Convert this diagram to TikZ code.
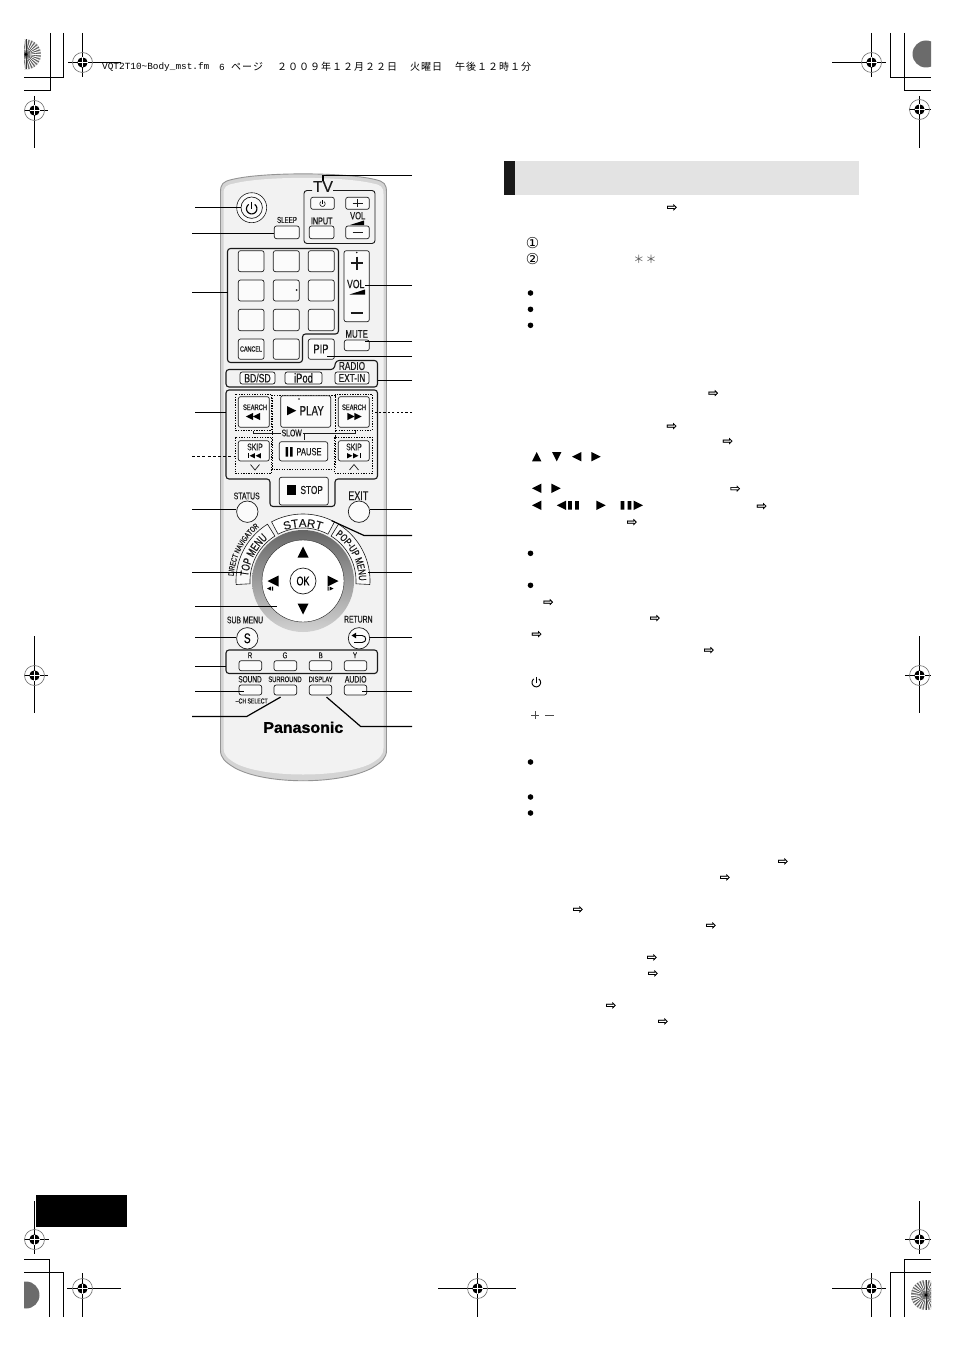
\documentclass[tikz,border=0pt]{standalone}
\usepackage{fontspec}
\setmainfont{Liberation Sans}
\newfontfamily\nar[FakeStretch=0.72,FakeBold=0.35]{Liberation Sans}
\newfontfamily\wid[FakeBold=0.3]{Liberation Sans}
\newfontfamily\brandf[FakeBold=1.2,FakeStretch=1.03]{Liberation Sans Bold}
\newfontfamily\cjk[LetterSpace=10]{Noto Sans CJK JP}
\newfontfamily\hdrmono{Liberation Mono}
\newfontfamily\dejav{DejaVu Sans}
\newfontfamily\dejab[FakeBold=0.8]{DejaVu Sans}
\usetikzlibrary{decorations.text}
\definecolor{ink}{HTML}{1A1A1A}
\tikzset{
  btn/.style={draw=ink,line width=.7pt,rounded corners=2.2pt,fill=white!60!black!4,inner sep=0pt},
  cbtn/.style={circle,draw=ink,line width=.7pt,fill=white!60!black!4,inner sep=0pt,minimum size=21.4pt},
  lab/.style={inner sep=0pt,text=ink},
  grp/.style={draw=ink,line width=1.1pt,rounded corners=3pt},
  callout/.style={draw=black,line width=1.2pt},
  dotbox/.style={draw=black,line width=.8pt,dash pattern=on 1.3pt off 1.3pt},
  cropline/.style={draw=black,line width=1pt},
  refarrow/.style={inner sep=0pt,yshift=-.8pt,font=\dejab\fontsize{12.5}{12.5}\selectfont},
  circlenum/.style={inner sep=0pt,font=\dejav\fontsize{15}{15}\selectfont},
}
\newcommand\Btn[5]{\pgfmathsetmacro\bw{#4-#2}\pgfmathsetmacro\bh{#5-#3}\pgfmathsetmacro\bx{(#2+#4)/2}\pgfmathsetmacro\by{(#3+#5)/2}\node[btn,minimum width=\bw pt,minimum height=\bh pt] (#1) at (\bx,\by) {};}
\newcommand\Lab[5]{\node[lab] (#1) at (#2,#3) {\nar\fontsize{#4}{#4}\selectfont #5};}
\newcommand\triU[3]{\fill[black] (#1,#2-#3) -- (#1+#3,#2+#3) -- (#1-#3,#2+#3) -- cycle;}
\newcommand\triD[3]{\fill[black] (#1,#2+#3) -- (#1+#3,#2-#3) -- (#1-#3,#2-#3) -- cycle;}
\newcommand\triL[3]{\fill[black] (#1-#3,#2) -- (#1+#3,#2-#3) -- (#1+#3,#2+#3) -- cycle;}
\newcommand\triR[3]{\fill[black] (#1+#3,#2) -- (#1-#3,#2-#3) -- (#1-#3,#2+#3) -- cycle;}
\newcommand\Reg[6]{%
  \draw[cropline] (#3,#2) -- (#4,#2);
  \draw[cropline] (#1,#5) -- (#1,#6);
  \draw[black!60,line width=.6pt] (#1,#2) circle[radius=10pt];
  \fill[black] (#1,#2) circle[radius=5.2pt];
  \draw[white,line width=.45pt] (#1-5,#2) -- (#1+5,#2) (#1,#2-5) -- (#1,#2+5);
}
\newcommand\Spoked[2]{%
  \fill[black!35] (#1,#2) circle[radius=15pt];
  \foreach \a in {0,12,...,348}{\draw[white,line width=.7pt] (#1,#2) -- ({#1+15*cos(\a)},{#2+15*sin(\a)});}
  \foreach \a in {6,18,...,354}{\draw[black!80,line width=.35pt] (#1,#2) -- ({#1+15*cos(\a)},{#2+15*sin(\a)});}
  \fill[black] (#1,#2) circle[radius=1.5pt];
}
\newcommand\Pow[3]{%
  \draw[line width=#3*.22pt] plot[domain=125:415,samples=24] ({#1+#3*cos(\x)},{#2-#3*sin(\x)});
  \draw[line width=#3*.22pt] (#1,#2-#3*1.3) -- (#1,#2);
}
\begin{document}
\begin{tikzpicture}[x=1pt,y=-1pt]
\useasboundingbox (0,0) rectangle (954,1351);
\fill[white] (0,0) rectangle (954,1351);
% ---------- printers' marks
\begin{scope}
\clip (24,20) rectangle (931,1330);
\Spoked{26}{54.5}
\fill[black!58] (926,54) circle[radius=13.5pt];
\fill[black!58] (26,1295) circle[radius=13.5pt];
\Spoked{926}{1295}
\end{scope}
\draw[cropline] (50,33) -- (50,90.5) -- (24,90.5);
\draw[cropline] (63.5,33) -- (63.5,77.5) -- (24,77.5);
\draw[cropline] (890.5,33) -- (890.5,77.5) -- (931,77.5);
\draw[cropline] (904.5,33) -- (904.5,90.5) -- (931,90.5);
\draw[cropline] (49.5,1317) -- (49.5,1259.5) -- (24,1259.5);
\draw[cropline] (63.5,1317) -- (63.5,1272.5) -- (24,1272.5);
\draw[cropline] (890.5,1317) -- (890.5,1272.5) -- (931,1272.5);
\draw[cropline] (904.5,1317) -- (904.5,1259.5) -- (931,1259.5);
\Reg{82.5}{62.5}{68}{121}{33}{77}
\Reg{34.5}{110.5}{24}{48}{96}{148}
\Reg{871.5}{62.5}{832}{886}{33}{77}
\Reg{919.5}{109.5}{909}{931}{96}{148}
\Reg{34.5}{675.5}{24}{48}{636}{713}
\Reg{919.5}{675.5}{905}{931}{636}{713}
\Reg{34.5}{1239.5}{24}{48.5}{1201}{1254}
\Reg{82.5}{1288.5}{67}{121}{1273}{1317}
\Reg{477.5}{1288.5}{438}{516}{1273}{1317}
\Reg{871.5}{1288.5}{832}{886}{1273}{1317}
\Reg{919.5}{1239.5}{905}{931}{1201}{1254}
\fill[black] (36,1195) rectangle (127,1226.5);
% ---------- running header
\node[inner sep=0pt,anchor=west,font=\hdrmono\fontsize{9.4}{9.4}\selectfont] (hdrA) at (102,67) {VQT2T10\textasciitilde Body\_mst.fm};
\node[inner sep=0pt,anchor=west,font=\hdrmono\fontsize{9.4}{9.4}\selectfont] (hdrB) at (219,67) {6};
\node[inner sep=0pt,anchor=west,font=\cjk\fontsize{10}{10}\selectfont] (hdrP) at (231,67) {ページ};
\node[inner sep=0pt,anchor=west,font=\cjk\fontsize{10}{10}\selectfont] (hdrC) at (277,67) {２００９年１２月２２日};
\node[inner sep=0pt,anchor=west,font=\cjk\fontsize{10}{10}\selectfont] (hdrD) at (410,67) {火曜日};
\node[inner sep=0pt,anchor=west,font=\cjk\fontsize{10}{10}\selectfont] (hdrE) at (455,67) {午後１２時１分};
% ---------- remote body
\path[fill=black!17,draw=black!42,line width=.9pt] (220.5,192) .. controls (220.5,184) and (223,181.5) .. (232,179.5) .. controls (262,172) and (344,172) .. (375,179.5) .. controls (384,181.5) and (386.5,184) .. (386.5,192) -- (386.5,750) .. controls (386.5,758) and (382,762) .. (372,768) .. controls (340,785) and (266,785) .. (235,768) .. controls (225,762) and (220.5,758) .. (220.5,750) -- cycle;
\path[fill=black!5] (223.5,194) .. controls (223.5,187) and (226,185) .. (234,183.5) .. controls (264,176) and (342,176) .. (373,183.5) .. controls (381,185) and (383.5,187) .. (383.5,194) -- (383.5,748) .. controls (383.5,755) and (379,759) .. (370,764) .. controls (340,778) and (266,778) .. (237,764) .. controls (228,759) and (223.5,755) .. (223.5,748) -- cycle;
% group outlines
\draw[grp,fill=none] (227.5,248.5) -- (338.5,248.5) -- (338.5,334) -- (302.5,334) -- (302.5,362.5) -- (227.5,362.5) -- cycle;
\draw[grp] (226,369.5) -- (334,369.5) -- (336,360.5) -- (377.5,360.5) -- (377.5,387) -- (226,387) -- cycle;
\draw[grp] (226,390) -- (377.5,390) -- (377.5,479) -- (335,479) -- (335,506.5) -- (270,506.5) -- (270,479) -- (226,479) -- cycle;
\draw[grp] (226,650) rectangle (377.5,673.5);
\draw[draw=ink,line width=.9pt,rounded corners=3pt] (312,190.5) -- (304,190.5) -- (304,243.5) -- (375,243.5) -- (375,190.5) -- (333,190.5);
% power
\node[circle,draw=ink,line width=.6pt,fill=white!60!black!4,minimum size=30pt,inner sep=0pt] (powerOuter) at (251.7,207.7) {};
\node[cbtn] (power) at (251.7,207.7) {};
\Pow{251.7}{208.7}{5.2}
% TV block
\Lab{sleepT}{287}{220}{8.6}{SLEEP}
\Btn{sleep}{274.3}{226}{299.3}{238.7}
\node[inner sep=0pt,text=ink,font=\wid\fontsize{15.5}{15.5}\selectfont] (tvT) at (323,186.5) {TV};
\Btn{tvpower}{310.7}{197.3}{334.3}{209.3}
\Pow{322.5}{203.8}{2.6}
\Btn{tvplus}{345.7}{197.3}{369.3}{209.3}
\draw[ink,line width=.9pt] (357.5,199.5) -- (357.5,207) (352.5,203.3) -- (362.5,203.3);
\Lab{inputT}{321.7}{221}{10}{INPUT}
\Btn{tvinput}{309.3}{226}{334}{238.7}
\Lab{tvvolT}{357.7}{215.7}{10.5}{VOL}
\fill[black] (350,225) -- (364,220.5) -- (364,225) -- cycle;
\Btn{tvminus}{345.7}{226}{369.3}{238.7}
\draw[ink,line width=.9pt] (352.5,232.3) -- (362.5,232.3);
% numeric pad
\Btn{k1}{238.3}{250.7}{264}{271.7}
\Btn{k2}{273.3}{250.7}{299.3}{271.7}
\Btn{k3}{308.3}{250.7}{334.3}{271.7}
\Btn{k4}{238.3}{280}{264}{301}
\Btn{k5}{273.3}{280}{299.3}{301}
\Btn{k6}{308.3}{280}{334.3}{301}
\Btn{k7}{238.3}{309.3}{264}{330.7}
\Btn{k8}{273.3}{309.3}{299.3}{330.7}
\Btn{k9}{308.3}{309.3}{334.3}{330.7}
\Btn{cancel}{238.3}{339}{264}{359.3}
\Btn{k0}{273.3}{339}{299.3}{359.3}
\Btn{pip}{308.3}{339}{334.3}{359.3}
\fill[ink] (296.7,290) circle[radius=1pt];
\Lab{cancelT}{251}{349}{7.5}{CANCEL}
\Lab{pipT}{321}{349}{13}{PIP}
% big volume
\Btn{vol}{344}{250.7}{369.3}{321.7}
\fill[ink] (356.7,252.5) circle[radius=.9pt];
\draw[ink,line width=1.9pt] (356.7,256.5) -- (356.7,269.5) (350.5,263.3) -- (363,263.3);
\Lab{volT}{355.7}{284}{12}{VOL}
\fill[black] (349.5,294.5) -- (365,289.5) -- (365,294.5) -- cycle;
\draw[ink,line width=1.9pt] (350.5,313) -- (363,313);
\Lab{muteT}{356.7}{334}{11}{MUTE}
\Btn{mute}{344.3}{340}{369.3}{350.7}
% source row
\Lab{radioT}{352}{366}{11.5}{RADIO}
\Btn{bdsd}{240}{372}{275}{384}
\Btn{ipod}{285}{372}{322}{384}
\Btn{extin}{335}{372}{369}{384}
\Lab{bdsdT}{257.5}{378}{12}{BD/SD}
\Lab{ipodT}{303.5}{378}{13}{iPod}
\Lab{extinT}{352}{378}{11.5}{EXT-IN}
% transport
\draw[dotbox] (235,394) rectangle (271.7,430);
\draw[dotbox] (272.3,395) rectangle (335,469);
\draw[dotbox] (335.7,394) rectangle (372.3,430);
\draw[dotbox] (235,437.3) rectangle (271.7,473.3);
\draw[dotbox] (334.3,437.3) rectangle (372.3,473.3);
\Btn{searchL}{238.3}{396.7}{269.3}{427.3}
\Lab{searchLT}{255}{407.3}{8}{SEARCH}
\triL{249.5}{416.5}{3.6}\triL{256.5}{416.5}{3.6}
\Btn{play}{280.7}{395.7}{330.7}{427.3}
\fill[ink] (299,399) circle[radius=.8pt];
\triR{291.7}{410.7}{4.6}
\Lab{playT}{311.7}{410.7}{13.6}{PLAY}
\Btn{searchR}{338.3}{396.7}{369.3}{427.3}
\Lab{searchRT}{354}{407.3}{8}{SEARCH}
\triR{351}{416.5}{3.6}\triR{358}{416.5}{3.6}
\draw[ink,line width=.6pt] (253,431) -- (253,433) -- (355,433) -- (355,431);
\node[lab,fill=black!5,inner xsep=1pt,inner ysep=0pt] (slowT) at (291.7,433) {\nar\fontsize{9.5}{9.5}\selectfont SLOW};
\draw[ink,line width=.6pt] (304.3,433) -- (304.3,440);
\Btn{skipL}{238.3}{440.7}{269.3}{461}
\Lab{skipLT}{255}{447}{9.5}{SKIP}
\draw[black,line width=1pt] (248,453.2) -- (248,458.2);
\triL{252.2}{455.7}{2.6}\triL{258.2}{455.7}{2.6}
\draw[ink,line width=.7pt] (250.5,464.5) -- (255,470) -- (259.5,464.5);
\Btn{pause}{279.3}{441.7}{327.7}{461}
\fill[black] (285.7,447) rectangle (288.2,456.5) (290.2,447) rectangle (292.7,456.5);
\Lab{pauseT}{309}{451.7}{10.5}{PAUSE}
\Btn{skipR}{338.3}{440.7}{369.3}{461}
\Lab{skipRT}{354}{447}{9.5}{SKIP}
\triR{349.8}{455.7}{2.6}\triR{355.8}{455.7}{2.6}
\draw[black,line width=1pt] (360,453.2) -- (360,458.2);
\draw[ink,line width=.7pt] (349.5,470) -- (354,464.5) -- (358.5,470);
\Btn{stop}{279.3}{477.3}{328.3}{505}
\fill[black] (287,485.3) rectangle (296.3,494.7);
\Lab{stopT}{311.7}{490}{11.5}{STOP}
% status / exit
\Lab{statusT}{246.7}{496}{9.5}{STATUS}
\node[cbtn] (status) at (247.3,511.7) {};
\Lab{exitT}{358.3}{495.7}{12.5}{EXIT}
\node[cbtn] (exit) at (359,511.7) {};
% petals round the d-pad
\path[draw=ink,line width=.6pt,fill=white] plot[domain=118:62,samples=24] ({303+67*cos(\x)},{581-67*sin(\x)}) -- plot[domain=62:118,samples=24] ({303+53*cos(\x)},{581-53*sin(\x)}) -- cycle;
\path[draw=ink,line width=.6pt,fill=black!2] plot[domain=183:122,samples=24] ({303+67*cos(\x)},{581-67*sin(\x)}) -- plot[domain=122:183,samples=24] ({303+53*cos(\x)},{581-53*sin(\x)}) -- cycle;
\path[draw=ink,line width=.6pt,fill=black!2] plot[domain=58:-3,samples=24] ({303+67*cos(\x)},{581-67*sin(\x)}) -- plot[domain=-3:58,samples=24] ({303+53*cos(\x)},{581-53*sin(\x)}) -- cycle;
\path[decorate,decoration={text along path,text align=center,text={|\wid\fontsize{11.5}{11.5}\selectfont\color{ink}|START}}] plot[domain=118:62,samples=40] ({303+54*cos(\x)},{581-54*sin(\x)});
\path[decorate,decoration={text along path,text align=center,text={|\nar\fontsize{11.5}{11.5}\selectfont\color{ink}|TOP MENU}}] plot[domain=181:124,samples=40] ({303+55*cos(\x)},{581-55*sin(\x)});
\path[decorate,decoration={text along path,text align=center,text={|\nar\fontsize{10.5}{10.5}\selectfont\color{ink}|POP-UP MENU}}] plot[domain=56:-1,samples=40] ({303+56*cos(\x)},{581-56*sin(\x)});
\path[decorate,decoration={text along path,text align=center,text={|\nar\fontsize{8}{8}\selectfont\color{ink}|DIRECT NAVIGATOR}}] plot[domain=183:122,samples=40] ({303+69.5*cos(\x)},{581-69.5*sin(\x)});
% d-pad
\path[top color=black!60,bottom color=black!18,even odd rule] (303,581) circle[radius=51pt] (303,581) circle[radius=41pt];
\node[circle,draw=ink,line width=.4pt,fill=white,minimum size=82pt,inner sep=0pt] (dpad) at (303,581) {};
\node[circle,draw=ink,line width=.7pt,fill=white,minimum size=26pt,inner sep=0pt,font=\nar\fontsize{12.5}{12.5}\selectfont] (ok) at (303,581) {OK};
\triU{303}{552}{5.5}
\triD{303}{609}{5.5}
\triL{273}{581}{5.5}
\triR{333}{581}{5.5}
\fill[black] (267,588.5) -- (271,586.5) -- (271,590.5) -- cycle (272,586.5) rectangle (273,590.5);
\fill[black] (333.5,588.5) -- (329.5,586.5) -- (329.5,590.5) -- cycle (327.5,586.5) rectangle (328.5,590.5);
% sub menu / return
\Lab{submenuT}{245}{620}{9.5}{SUB MENU}
\node[cbtn,font=\nar\fontsize{14}{14}\selectfont] (submenu) at (247.3,638.3) {S};
\Lab{returnT}{358.3}{619.3}{9.5}{RETURN}
\node[cbtn] (return) at (359,638.3) {};
\draw[black,line width=.9pt] (355,635.5) -- (362,635.5) .. controls (367,635.5) and (367,642.5) .. (362,642.5) -- (354,642.5);
\fill[black] (351.5,635.5) -- (356,632.7) -- (356,638.3) -- cycle;
% colour keys
\Btn{kR}{239}{660.7}{261.7}{670.7}
\Btn{kG}{274}{660.7}{296.7}{670.7}
\Btn{kB}{309.3}{660.7}{331.7}{670.7}
\Btn{kY}{344.3}{660.7}{366.7}{670.7}
\Lab{kRT}{250}{655.3}{8.5}{R}
\Lab{kGT}{285}{655.3}{8.5}{G}
\Lab{kBT}{320.7}{655.3}{8.5}{B}
\Lab{kYT}{355}{655.3}{8.5}{Y}
% bottom row
\Lab{soundT}{250}{679.3}{9}{SOUND}
\Lab{surroundT}{285}{679.3}{8}{SURROUND}
\Lab{displayT}{320.7}{679.3}{8}{DISPLAY}
\Lab{audioT}{355.7}{679.3}{9.5}{AUDIO}
\Btn{sound}{239}{685}{261.7}{695}
\Btn{surround}{274}{685}{296.7}{695}
\Btn{display}{309.3}{685}{331.7}{695}
\Btn{audio}{344.3}{685}{366.7}{695}
\Lab{chselT}{251.7}{701}{7.2}{–CH SELECT}
\node[inner sep=0pt,text=black,font=\brandf\fontsize{15.5}{15.5}\selectfont] (brand) at (303.3,727.3) {Panasonic};
% ---------- callouts
\foreach \n/\x/\y in {lPower/195/207.5,lSleep/192/233.5,lPad/192/292.5,lRew/195/412.5,lSkip/192/456.5,lStatus/192/509.5,lTop/192/572.5,lDpad/195/606.5,lSub/195/637.5,lCol/195/666.5,lSound/195/691.5,lSurr/192/716.5,
  rTV/412/175.5,rVol/412/285.5,rMute/412/341.5,rPip/412/356.5,rSrc/412/380.5,rFf/412/412.5,rExit/412/509.5,rStart/412/535.5,rPop/412/572.5,rRet/412/637.5,rAudio/412/691.5,rDisp/412/726.5}
  {\coordinate (\n) at (\x,\y);}
\coordinate (bendStart) at (364,535.5);
\coordinate (bendSurr) at (246.7,716.5);
\coordinate (bendDisp) at (360.7,726.5);
\draw[callout] (lPower) -- (lPower -| power.west);
\draw[callout] (lSleep) -- (lSleep -| sleep.west);
\draw[callout] (lPad) -- (227.5,292.5);
\draw[callout] (lRew) -- (226,412.5);
\draw[draw=black,line width=1pt,dash pattern=on 3pt off 2.2pt] (lSkip) -- (235,456.5);
\draw[callout] (lStatus) -- (lStatus -| status.west);
\draw[callout] (lTop) -- (241.7,572.5);
\draw[callout] (lDpad) -- (276.7,606.5);
\draw[callout] (lSub) -- (lSub -| submenu.west);
\draw[callout] (lCol) -- (226,666.5);
\draw[callout] (lSound) -- ([xshift=-6pt]lSound -| sound.center);
\draw[callout] (lSurr) -- (bendSurr) -- ([shift={(-4.7pt,-1.7pt)}]surround.center |- surround.south);
\draw[callout] (rTV) -- (323,175.5) -- (tvT.north);
\draw[callout] (rVol) -- (365,285.5);
\draw[callout] (rMute) -- (365,341.5);
\draw[callout] (rPip) -- (326.7,356.5);
\draw[callout] (rSrc) -- (377.5,380.5);
\draw[draw=black,line width=1.3pt,dash pattern=on 2.2pt off 2.2pt] (rFf) -- (372.5,412.5);
\draw[callout] (rExit) -- (rExit -| exit.east);
\draw[callout] (rStart) -- (bendStart) -- (331.7,520.7);
\draw[callout] (rPop) -- (368,572.5);
\draw[callout] (rRet) -- (rRet -| return.east);
\draw[callout] (rAudio) -- ([xshift=6pt]rAudio -| audio.center);
\draw[callout] (rDisp) -- (bendDisp) -- ([shift={(6pt,-1.7pt)}]display.center |- display.south);
% ---------- right panel
\fill[black!11] (515,161) rectangle (859.3,195);
\fill[black!90] (504,161) rectangle (515,195);
\foreach \i/\x/\y in {a/672/207,b/713.3/392.7,c/671.7/425.7,d/727.7/440.7,e/735.3/488.3,f/761.7/505.7,g/632/521.7,h/548.3/601.7,i/655/617.7,j/536.7/633.7,k/709/649.7,l/783/861,m/725/877,n/578/909,o/711/925,p/652/957,q/653/973,r/611/1005,s/663/1021}
  {\node[refarrow] (arr\i) at (\x,\y) {⇨};}
\node[circlenum] (numOne) at (532.5,243.3) {①};
\node[circlenum] (numTwo) at (532.5,259.3) {②};
\node[inner sep=0pt,text=black!65,font=\cjk\fontsize{11}{11}\selectfont] (starsT) at (645,259.3) {＊＊};
\foreach \y in {293,309.3,325.3,553.3,585.3,762,797,813}{\fill[black] (530.5,\y) circle[radius=2.8pt];}
\triU{536.7}{456.7}{4.7}
\triD{556.7}{456.7}{4.7}
\triL{576.7}{456.7}{4.7}
\triR{596}{456.7}{4.7}
\triL{536.7}{488.3}{4.7}
\triR{556}{488.3}{4.7}
\triL{536.7}{505.3}{4.7}
\triL{561.5}{505.3}{4.7}
\fill[black] (568,501) rectangle (571.8,509.7) (575,501) rectangle (578.8,509.7);
\triR{601}{505.3}{4.7}
\fill[black] (620.5,501) rectangle (624.3,509.7) (627.5,501) rectangle (631.3,509.7);
\triR{638.3}{505.3}{4.7}
\Pow{536.3}{682.5}{4.3}
\draw[black!70,line width=.6pt] (531,715) -- (539,715) (535,711) -- (535,719) (545,715) -- (553.5,715);
\end{tikzpicture}
\end{document}
